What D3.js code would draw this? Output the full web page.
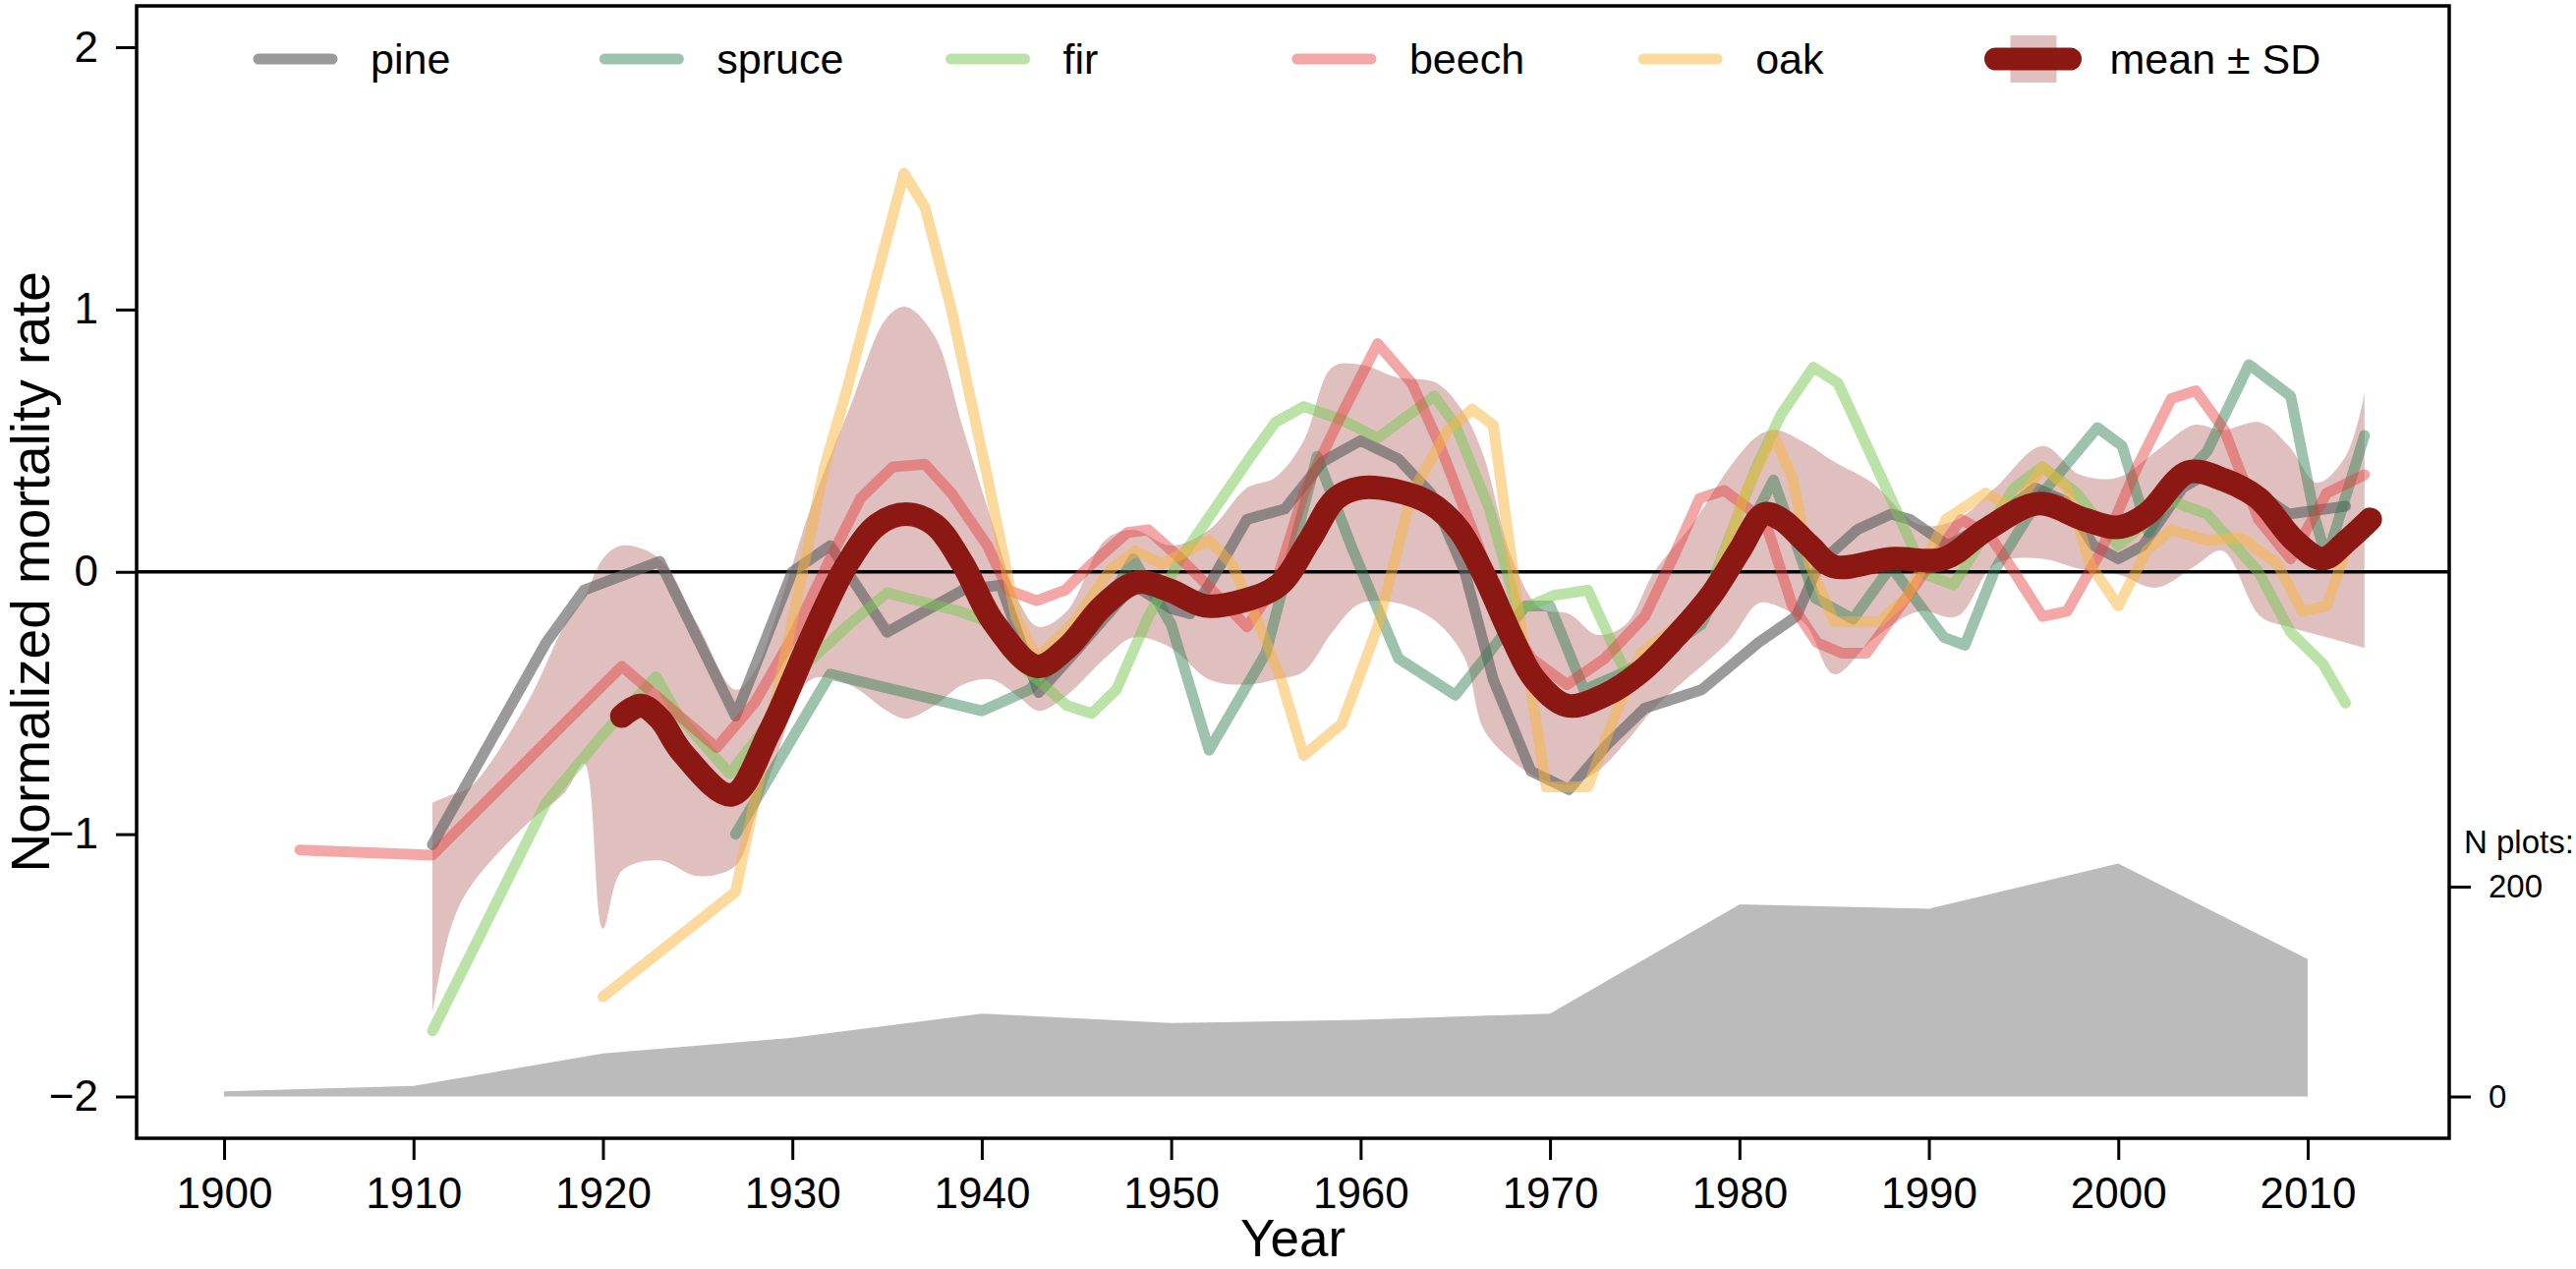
<!DOCTYPE html>
<html>
<head>
<meta charset="utf-8">
<script src="https://cdn.jsdelivr.net/npm/d3@7"></script>
<style>
  body { margin: 0; background: #fff; }
  svg text { font-family: "Liberation Sans", Arial, Helvetica, sans-serif; fill: #000; }
</style>
</head>
<body>
<script>
// ---- data ----
var xTicks = [1900, 1910, 1920, 1930, 1940, 1950, 1960, 1970, 1980, 1990, 2000, 2010];
var yTicks = [-2, -1, 0, 1, 2];
var nTicks = [0, 200];

var pineYear = [1911, 1917, 1919, 1923, 1927, 1930, 1932, 1935, 1939, 1941, 1943, 1945, 1948, 1950, 1951, 1952, 1954, 1956, 1958, 1960, 1962, 1963.7, 1965.5, 1967, 1969, 1971, 1973, 1975, 1978, 1981, 1983, 1984.2, 1986.2, 1988, 1989, 1991, 1993.5, 1995.6, 1997.2, 1998.7, 2000, 2001.3, 2003.4, 2004.8, 2007.4, 2009, 2012];
var pineRate = [-1.04, -0.27, -0.07, 0.04, -0.55, 0.0, 0.1, -0.23, -0.07, -0.05, -0.46, -0.3, -0.05, -0.14, -0.16, -0.05, 0.2, 0.24, 0.42, 0.5, 0.43, 0.3, 0.0, -0.41, -0.76, -0.83, -0.66, -0.52, -0.45, -0.27, -0.17, 0.03, 0.16, 0.22, 0.2, 0.1, 0.2, 0.32, 0.27, 0.1, 0.05, 0.1, 0.32, 0.38, 0.3, 0.22, 0.25];

var spruceYear = [1927, 1932, 1940, 1942.5, 1946, 1948, 1950, 1952, 1955, 1957.7, 1959.5, 1962, 1965, 1967.2, 1968.7, 1970, 1971.8, 1975, 1978, 1980, 1981.8, 1984, 1986, 1988, 1990.8, 1991.9, 1993.5, 1996, 1998.9, 2000.2, 2001.6, 2003, 2004.7, 2006.9, 2009.1, 2010.4, 2011, 2013];
var spruceRate = [-1.0, -0.39, -0.53, -0.45, -0.2, 0.05, -0.2, -0.68, -0.31, 0.44, 0.1, -0.33, -0.47, -0.27, -0.13, -0.13, -0.45, -0.35, -0.2, 0.1, 0.35, -0.1, -0.18, 0.02, -0.25, -0.28, 0.01, 0.3, 0.55, 0.48, 0.15, 0.33, 0.46, 0.79, 0.67, 0.2, 0.05, 0.52];

var firYear = [1911, 1917, 1920, 1922.8, 1924, 1926.7, 1928.5, 1930.3, 1933, 1935, 1938.8, 1940.3, 1942, 1944.5, 1945.8, 1947.1, 1948.8, 1950.5, 1952.3, 1954.2, 1955.5, 1957, 1959, 1960.9, 1963.9, 1965, 1966.8, 1968.3, 1970.2, 1972, 1973.9, 1975.5, 1978.5, 1980.9, 1982.2, 1983.9, 1985.2, 1988, 1989.8, 1991.3, 1994.5, 1996, 1997.8, 2000, 2002.8, 2004.7, 2007.4, 2009.1, 2010.8, 2012];
var firRate = [-1.75, -0.88, -0.62, -0.4, -0.55, -0.77, -0.6, -0.38, -0.2, -0.08, -0.15, -0.19, -0.35, -0.51, -0.54, -0.45, -0.17, 0.05, 0.24, 0.44, 0.57, 0.63, 0.58, 0.51, 0.67, 0.56, 0.24, -0.15, -0.09, -0.07, -0.37, -0.35, -0.05, 0.4, 0.6, 0.78, 0.72, 0.28, -0.01, -0.05, 0.32, 0.4, 0.3, 0.1, 0.27, 0.22, 0.0, -0.23, -0.35, -0.5];

var beechYear = [1904, 1911, 1921, 1926, 1928, 1930, 1932, 1933.6, 1935.3, 1937, 1938.4, 1940.3, 1941.4, 1942.9, 1944.4, 1945.8, 1947.7, 1948.8, 1950.5, 1951.9, 1954, 1955.5, 1957, 1959, 1960.9, 1962.7, 1964.2, 1965.9, 1967.4, 1969, 1970.9, 1972.9, 1975, 1976.6, 1977.9, 1979.2, 1980.5, 1981.5, 1982.8, 1984.1, 1985.4, 1986.7, 1988.9, 1991.7, 1993.2, 1994.5, 1996, 1997.3, 1999.1, 2001, 2002.8, 2004.1, 2005.6, 2007.4, 2009.1, 2011, 2013];
var beechRate = [-1.06, -1.08, -0.36, -0.67, -0.5, -0.25, 0.05, 0.28, 0.4, 0.41, 0.3, 0.1, -0.07, -0.11, -0.07, 0.03, 0.15, 0.16, 0.05, -0.05, -0.21, -0.05, 0.3, 0.6, 0.87, 0.72, 0.48, 0.16, -0.13, -0.33, -0.43, -0.33, -0.17, 0.07, 0.28, 0.31, 0.24, 0.16, -0.13, -0.27, -0.31, -0.31, -0.09, 0.2, 0.14, 0.0, -0.17, -0.15, 0.08, 0.4, 0.66, 0.69, 0.54, 0.2, 0.05, 0.3, 0.37];

var oakYear = [1920, 1927, 1931.7, 1932.9, 1935.9, 1937, 1938.4, 1940.3, 1941.8, 1942.9, 1944.9, 1946.8, 1948.1, 1949.5, 1952, 1953.2, 1954.7, 1955.8, 1957, 1959, 1960.9, 1962.7, 1964.6, 1965.9, 1967, 1968.3, 1969.8, 1972, 1973.3, 1974.8, 1976.6, 1978.5, 1980.3, 1981.8, 1982.8, 1983.7, 1985, 1987.4, 1988.9, 1990.9, 1993, 1994.5, 1996, 1997.3, 1998.5, 2000, 2001.5, 2002.8, 2004.7, 2006.5, 2008.4, 2009.7, 2011, 2012.1];
var oakRate = [-1.62, -1.22, 0.4, 0.7, 1.52, 1.39, 1.0, 0.36, -0.17, -0.33, -0.19, 0.01, 0.08, 0.03, 0.12, 0.03, -0.21, -0.41, -0.7, -0.58, -0.21, 0.3, 0.54, 0.62, 0.56, -0.13, -0.82, -0.82, -0.57, -0.31, -0.21, -0.09, 0.3, 0.52, 0.36, 0.03, -0.19, -0.19, -0.09, 0.2, 0.3, 0.24, 0.4, 0.32, 0.03, -0.13, 0.08, 0.16, 0.12, 0.13, 0.03, -0.15, -0.13, 0.1];

var meanYear = [1921, 1922, 1923, 1924.2, 1926.8, 1928.8, 1931, 1932.9, 1934.5, 1936, 1937.5, 1939, 1940.6, 1942.9, 1944.5, 1946.4, 1948.2, 1949.9, 1951.8, 1953.8, 1955.7, 1957.3, 1958.7, 1960, 1961.8, 1963.7, 1965.2, 1966.5, 1968, 1969.2, 1970.9, 1972.9, 1974.8, 1976.6, 1978.5, 1980, 1981.3, 1982.2, 1983.7, 1985, 1988, 1990.8, 1993, 1995.8, 1998.2, 2000, 2001.5, 2003.7, 2005.6, 2007.4, 2009.3, 2010.8, 2012.1, 2013.3];
var meanRate = [-0.55, -0.51, -0.56, -0.69, -0.85, -0.61, -0.25, 0.03, 0.18, 0.22, 0.18, 0.03, -0.19, -0.36, -0.29, -0.13, -0.04, -0.07, -0.13, -0.11, -0.05, 0.12, 0.28, 0.32, 0.31, 0.26, 0.16, -0.01, -0.25, -0.41, -0.51, -0.47, -0.38, -0.25, -0.09, 0.08, 0.22, 0.2, 0.1, 0.02, 0.05, 0.05, 0.16, 0.26, 0.2, 0.17, 0.22, 0.38, 0.35, 0.28, 0.12, 0.05, 0.12, 0.2];

// SD band around the mean
var bandYear  = [1911, 1912, 1913, 1916, 1918, 1919, 1920, 1921, 1923, 1925, 1927, 1928, 1929, 1931, 1933, 1935, 1936, 1937.5, 1939, 1940.5, 1942, 1943, 1944.5, 1946.5, 1948, 1950, 1952, 1954, 1955.5, 1957, 1958.5, 1960, 1962, 1964, 1965.5, 1966.5, 1968, 1969.5, 1971, 1972.5, 1974, 1975.5, 1977.5, 1979.5, 1981, 1982, 1983.5, 1985, 1987, 1989.5, 1991.5, 1993.5, 1996, 1998, 2000, 2002, 2004, 2005.5, 2007.5, 2009, 2010.5, 2012, 2013];
var bandUpper = [-0.88, -0.85, -0.82, -0.5, -0.2, -0.1, 0.05, 0.1, 0.05, -0.2, -0.45, -0.38, -0.2, 0.25, 0.62, 0.97, 1.01, 0.9, 0.55, 0.2, -0.12, -0.21, -0.15, 0.12, 0.16, 0.1, 0.16, 0.32, 0.36, 0.5, 0.78, 0.79, 0.74, 0.72, 0.6, 0.44, 0.05, -0.14, -0.16, -0.24, -0.2, 0.0, 0.18, 0.4, 0.52, 0.54, 0.49, 0.42, 0.34, 0.18, 0.2, 0.32, 0.48, 0.37, 0.36, 0.46, 0.56, 0.54, 0.57, 0.48, 0.34, 0.44, 0.68];
var bandLower = [-1.68, -1.35, -1.2, -0.96, -0.84, -0.73, -1.36, -1.14, -1.1, -1.16, -1.12, -0.94, -0.74, -0.41, -0.43, -0.53, -0.56, -0.51, -0.43, -0.41, -0.48, -0.53, -0.47, -0.33, -0.25, -0.29, -0.41, -0.43, -0.41, -0.38, -0.23, -0.12, -0.12, -0.19, -0.33, -0.6, -0.72, -0.79, -0.81, -0.76, -0.65, -0.52, -0.39, -0.26, -0.12, -0.13, -0.2, -0.39, -0.26, -0.15, -0.17, 0.03, 0.05, 0.01, -0.01, -0.06, 0.02, 0.08, -0.17, -0.21, -0.24, -0.27, -0.29];

// number of plots (right axis)
var plotYear  = [1900, 1910, 1920, 1930, 1940, 1950, 1960, 1970, 1980, 1990, 2000, 2010];
var plotCount = [5, 10, 41, 56, 79, 70, 73, 79, 183, 179, 222, 131];

var speciesNames = ["pine", "spruce", "fir", "beech", "oak"];
var speciesColors = ["#646464", "#2e7d50", "#78c850", "#e63c3c", "#fab43c"];
var speciesOpacity = [0.65, 0.47, 0.5, 0.45, 0.5];

var meanColor = "#8b1812";

// ---- build the chart ----
var width = 2621, height = 1291;
// frame of the plotting region
var frame = {left: 139, top: 6, right: 2492, bottom: 1158};

var svg = d3.select("body").append("svg")
    .attr("width", width)
    .attr("height", height);

// scales: year -> x, normalized rate -> y, N plots -> y (shares the bottom of the plot)
var x = d3.scaleLinear().domain([1900, 2010]).range([228, 2348]);
var y = d3.scaleLinear().domain([-2, 2]).range([1115.5, 48]);
var yN = d3.scaleLinear().domain([0, 250]).range([y(-2), y(-1)]);

var series = [
    {years: pineYear, rates: pineRate},
    {years: spruceYear, rates: spruceRate},
    {years: firYear, rates: firRate},
    {years: beechYear, rates: beechRate},
    {years: oakYear, rates: oakRate}
];

// grey area: number of plots
var nArea = d3.area()
    .x(function(d) { return x(d[0]); })
    .y0(yN(0))
    .y1(function(d) { return yN(d[1]); });

svg.append("path")
    .datum(d3.zip(plotYear, plotCount))
    .attr("d", nArea)
    .attr("fill", "#bbbbbb");

// SD band
var band = d3.area()
    .curve(d3.curveCatmullRom)
    .x(function(d) { return x(d[0]); })
    .y0(function(d) { return y(d[2]); })
    .y1(function(d) { return y(d[1]); });

svg.append("path")
    .datum(d3.zip(bandYear, bandUpper, bandLower))
    .attr("d", band)
    .attr("fill", meanColor)
    .attr("fill-opacity", 0.27);

// zero line
svg.append("line")
    .attr("x1", frame.left).attr("x2", frame.right)
    .attr("y1", y(0)).attr("y2", y(0))
    .attr("stroke", "#000")
    .attr("stroke-width", 3.5);

// species lines
var line = d3.line()
    .x(function(d) { return x(d[0]); })
    .y(function(d) { return y(d[1]); });

series.forEach(function(s, i) {
    svg.append("path")
        .datum(d3.zip(s.years, s.rates))
        .attr("d", line)
        .attr("fill", "none")
        .attr("stroke", speciesColors[i])
        .attr("stroke-opacity", speciesOpacity[i])
        .attr("stroke-width", 11)
        .attr("stroke-linejoin", "round")
        .attr("stroke-linecap", "round");
});

// smoothed mean
var smooth = d3.line()
    .curve(d3.curveCatmullRom.alpha(0.5))
    .x(function(d) { return x(d[0]); })
    .y(function(d) { return y(d[1]); });

svg.append("path")
    .datum(d3.zip(meanYear, meanRate))
    .attr("d", smooth)
    .attr("fill", "none")
    .attr("stroke", meanColor)
    .attr("stroke-width", 24)
    .attr("stroke-linejoin", "round")
    .attr("stroke-linecap", "round");

// box around the plot
svg.append("rect")
    .attr("x", frame.left).attr("y", frame.top)
    .attr("width", frame.right - frame.left)
    .attr("height", frame.bottom - frame.top)
    .attr("fill", "none")
    .attr("stroke", "#000")
    .attr("stroke-width", 3.5);

// axes
function styleAxis(g, size) {
    g.select(".domain").remove();
    g.attr("font-family", null).attr("font-size", null);
    g.selectAll(".tick line").attr("stroke", "#000").attr("stroke-width", 3);
    g.selectAll(".tick text").style("font-size", size + "px").attr("fill", "#000");
}

svg.append("g")
    .attr("transform", "translate(0," + frame.bottom + ")")
    .call(d3.axisBottom(x).tickValues(xTicks).tickFormat(d3.format("d")).tickSize(22).tickPadding(18))
    .call(styleAxis, 44);

svg.append("g")
    .attr("transform", "translate(" + frame.left + ",0)")
    .call(d3.axisLeft(y).tickValues(yTicks).tickFormat(d3.format("d")).tickSize(21).tickPadding(18))
    .call(styleAxis, 44);

svg.append("g")
    .attr("transform", "translate(" + frame.right + ",0)")
    .call(d3.axisRight(yN).tickValues(nTicks).tickSize(22).tickPadding(18))
    .call(styleAxis, 33);

// axis titles
svg.append("text")
    .attr("transform", "translate(50," + y(0) + ") rotate(-90)")
    .style("text-anchor", "middle")
    .style("font-size", "55px")
    .text("Normalized mortality rate");

svg.append("text")
    .attr("x", (frame.left + frame.right) / 2)
    .attr("y", 1278)
    .style("text-anchor", "middle")
    .style("font-size", "53px")
    .text("Year");

svg.append("text")
    .attr("x", 2507)
    .attr("y", 868)
    .style("font-size", "33px")
    .text("N plots:");

// legend
var legendY = 60, legendStep = 352.3, legendX0 = 258;
var legend = svg.append("g");

speciesNames.forEach(function(name, i) {
    var lx = legendX0 + i * legendStep;
    legend.append("line")
        .attr("x1", lx + 5).attr("x2", lx + 80)
        .attr("y1", legendY).attr("y2", legendY)
        .attr("stroke", speciesColors[i])
        .attr("stroke-opacity", speciesOpacity[i])
        .attr("stroke-width", 11)
        .attr("stroke-linecap", "round");
    legend.append("text")
        .attr("x", lx + 119)
        .attr("y", legendY)
        .attr("dy", "0.35em")
        .style("font-size", "43px")
        .text(name);
});

var mx = legendX0 + 5 * legendStep;
legend.append("rect")
    .attr("x", mx + 26).attr("y", legendY - 24)
    .attr("width", 47).attr("height", 48)
    .attr("fill", meanColor)
    .attr("fill-opacity", 0.27);
legend.append("line")
    .attr("x1", mx + 11).attr("x2", mx + 87)
    .attr("y1", legendY).attr("y2", legendY)
    .attr("stroke", meanColor)
    .attr("stroke-width", 23)
    .attr("stroke-linecap", "round");
legend.append("text")
    .attr("x", mx + 127)
    .attr("y", legendY)
    .attr("dy", "0.35em")
    .style("font-size", "43px")
    .text("mean \u00b1 SD");
</script>
</body>
</html>
